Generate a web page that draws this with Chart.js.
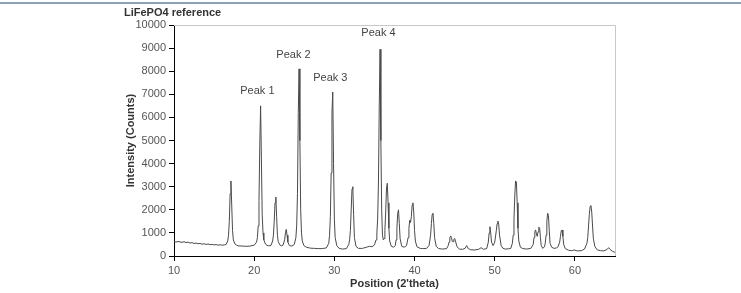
<!DOCTYPE html>
<html>
<head>
<meta charset="utf-8">
<script src="https://cdn.jsdelivr.net/npm/chart.js@4.4.1/dist/chart.umd.min.js"></script>
<style>
  html, body { margin: 0; padding: 0; background: #ffffff; }
  #wrap { width: 741px; height: 293px; position: relative; }
</style>
</head>
<body>
<div id="wrap"><canvas id="c" width="741" height="293"></canvas></div>
<script>
const chartTitle = "LiFePO4 reference";
const xTitle = "Position (2'theta)";
const yTitle = "Intensity (Counts)";
const xTicks = [10, 20, 30, 40, 50, 60];

const twoTheta = [
  10.0,10.25,10.5,10.75,11.0,11.25,11.5,11.75,12.0,12.25,12.5,12.75,13.0,13.25,13.5,13.75,14.0,14.25,14.5,14.75,15.0,15.25,15.5,15.75,16.0,16.3,16.5,16.7,
  16.8,16.9,17.0,17.1,17.2,17.3,17.4,17.6,17.8,
  18.0,18.5,19.0,19.5,20.0,20.3,
  20.4,20.5,20.6,20.7,20.8,20.9,21.0,21.1,21.2,21.4,21.6,
  21.8,22.1,22.3,
  22.4,22.5,22.6,22.7,22.8,22.9,23.0,23.2,23.4,
  23.6,23.8,23.9,24.0,24.1,24.2,24.4,24.7,25.0,25.2,
  25.3,25.4,25.5,25.6,25.7,25.8,25.9,26.0,26.2,26.5,
  27.0,27.5,28.0,28.5,29.0,29.3,
  29.4,29.5,29.6,29.7,29.8,29.9,30.0,30.1,30.3,30.6,
  31.0,31.5,31.8,
  31.9,32.0,32.1,32.2,32.3,32.4,32.5,32.7,33.0,
  33.5,34.0,34.4,34.7,35.0,35.2,
  35.3,35.4,35.5,35.6,35.7,35.8,35.9,36.0,36.1,36.2,36.3,36.4,36.5,36.6,36.7,36.8,36.9,37.1,37.4,
  37.6,37.7,37.8,37.9,38.0,38.1,38.2,38.4,38.7,39.0,39.2,
  39.3,39.4,39.5,39.6,39.7,39.8,39.9,40.0,40.1,40.3,40.7,
  41.0,41.5,41.8,
  41.9,42.0,42.1,42.2,42.3,42.4,42.5,42.7,43.0,
  43.5,44.0,44.2,
  44.3,44.4,44.5,44.6,44.7,44.8,44.9,45.0,45.1,45.3,45.6,
  46.0,46.3,46.5,46.7,47.0,47.5,48.0,48.3,48.6,49.0,49.2,
  49.3,49.4,49.5,49.6,49.8,50.0,50.2,50.3,50.4,50.5,50.6,50.8,51.0,
  51.3,51.7,52.0,52.2,
  52.3,52.4,52.5,52.6,52.7,52.8,52.9,53.0,53.2,53.5,
  54.0,54.5,54.8,
  54.9,55.0,55.1,55.2,55.3,55.4,55.5,55.6,55.7,55.8,56.0,56.2,56.3,56.4,56.5,56.6,56.7,56.8,56.9,57.1,57.4,57.7,
  57.9,58.1,58.2,58.3,58.4,58.5,58.6,58.8,
  59.2,59.6,59.9,60.3,60.8,61.2,61.5,
  61.6,61.7,61.8,61.9,62.0,62.1,62.2,62.3,62.5,62.8,63.2,63.6,64.0,64.2,64.4,64.7,65.0
];
const counts = [
  640,600,630,610,590,620,580,600,560,580,540,560,530,545,510,530,500,520,490,505,480,495,470,485,470,480,500,650,
  900,1500,2700,3250,2200,1100,700,520,470,
  440,430,420,430,470,600,
  800,1300,2400,4800,6500,4200,1800,1000,700,520,460,
  440,460,650,
  900,1500,2300,2550,1700,900,620,480,440,
  470,700,1000,1150,900,600,450,430,500,800,
  1300,2700,6200,8100,5000,2000,1000,650,450,380,
  340,330,320,320,350,550,
  900,1700,3600,6200,7100,4000,1600,800,450,330,
  300,320,500,
  700,1100,2000,2900,3000,1800,800,420,330,
  330,380,420,400,480,700,
  1000,1600,3200,6500,8950,5000,2000,900,700,750,1100,1900,2900,3150,2300,1200,650,420,380,
  450,700,1200,1850,2000,1400,750,420,380,450,800,
  1200,1550,1450,1700,2200,2300,1900,1100,650,400,330,
  320,330,450,
  650,900,1400,1800,1850,1400,800,420,320,
  300,320,450,
  600,780,870,800,640,620,720,760,650,400,300,
  290,330,450,320,270,260,290,360,290,320,600,
  1000,1270,1000,600,450,600,1100,1400,1510,1350,900,450,340,
  300,310,330,550,
  900,1600,2600,3250,3200,2300,1200,650,380,320,
  300,330,500,
  800,1050,1130,950,850,1050,1250,1200,800,450,330,400,550,900,1500,1850,1750,1100,550,380,330,350,
  400,600,850,1100,1125,850,500,320,
  250,230,260,220,230,300,550,
  800,1300,1800,2150,2180,1900,1300,750,400,260,230,220,280,360,280,200,160
];

const peakLabels = ["Peak 1", "Peak 2", "Peak 3", "Peak 4"];
const peakLabelX = [20.4, 24.9, 29.5, 35.5];
const peakLabelY = [7140, 8700, 7700, 9650];

const points = twoTheta.map((x, i) => ({ x: x, y: counts[i] }));

const FONT = "'Liberation Sans', Arial, sans-serif";

const decorPlugin = {
  id: 'decor',
  beforeDraw(chart) {
    const ctx = chart.ctx;
    ctx.save();
    ctx.fillStyle = '#ffffff';
    ctx.fillRect(0, 0, chart.width, chart.height);
    ctx.strokeStyle = '#8ba2b6';
    ctx.lineWidth = 2;
    ctx.beginPath();
    ctx.moveTo(0, 3);
    ctx.lineTo(chart.width, 3);
    ctx.stroke();
    ctx.restore();
  },
  afterDatasetsDraw(chart) {
    const ctx = chart.ctx;
    const a = chart.chartArea;
    ctx.save();
    ctx.strokeStyle = '#c8c8c8';
    ctx.lineWidth = 1;
    ctx.beginPath();
    ctx.moveTo(a.left, a.top + 0.5);
    ctx.lineTo(a.right + 0.5, a.top + 0.5);
    ctx.lineTo(a.right + 0.5, a.bottom);
    ctx.stroke();
    ctx.fillStyle = '#333333';
    ctx.font = "bold 11px " + FONT;
    ctx.textAlign = 'left';
    ctx.textBaseline = 'middle';
    ctx.fillText(chartTitle, 124, 13);
    const xs = chart.scales.x, ys = chart.scales.y;
    ctx.font = "11px " + FONT;
    ctx.fillStyle = '#444444';
    ctx.textAlign = 'center';
    peakLabels.forEach((t, i) => {
      ctx.fillText(t, xs.getPixelForValue(peakLabelX[i]), ys.getPixelForValue(peakLabelY[i]));
    });
    ctx.restore();
  }
};

new Chart(document.getElementById('c'), {
  type: 'line',
  data: {
    datasets: [{
      data: points,
      borderColor: '#4a4a4a',
      borderWidth: 1,
      pointRadius: 0,
      tension: 0,
      fill: false
    }]
  },
  options: {
    responsive: false,
    animation: false,
    devicePixelRatio: 1,
    layout: { padding: { left: 120, right: 126, top: 25, bottom: 0 } },
    plugins: { legend: { display: false }, tooltip: { enabled: false }, title: { display: false } },
    scales: {
      x: {
        type: 'linear',
        min: 10, max: 65,
        afterBuildTicks(s) { s.ticks = xTicks.map(v => ({ value: v })); },
        afterFit(s) { s.height = 37; },
        grid: { display: true, drawOnChartArea: false, drawTicks: true, tickLength: 5, color: '#000000' },
        border: { display: true, color: '#000000', width: 1 },
        ticks: { color: '#555555', font: { family: FONT, size: 11 }, padding: 3, maxRotation: 0, callback: v => String(v) },
        title: { display: true, text: xTitle, color: '#333333', font: { family: FONT, size: 11, weight: 'bold' }, padding: { top: 0, bottom: 2 } }
      },
      y: {
        min: 0, max: 10000,
        afterFit(s) { s.width = 54; },
        grid: { display: true, drawOnChartArea: false, drawTicks: true, tickLength: 5, color: '#000000' },
        border: { display: true, color: '#000000', width: 1 },
        ticks: { stepSize: 1000, color: '#555555', font: { family: FONT, size: 11 }, padding: 3, callback: v => String(v) },
        title: { display: true, text: yTitle, color: '#333333', font: { family: FONT, size: 11, weight: 'bold' }, padding: { top: 4, bottom: 4 } }
      }
    }
  },
  plugins: [decorPlugin]
});
</script>
</body>
</html>
